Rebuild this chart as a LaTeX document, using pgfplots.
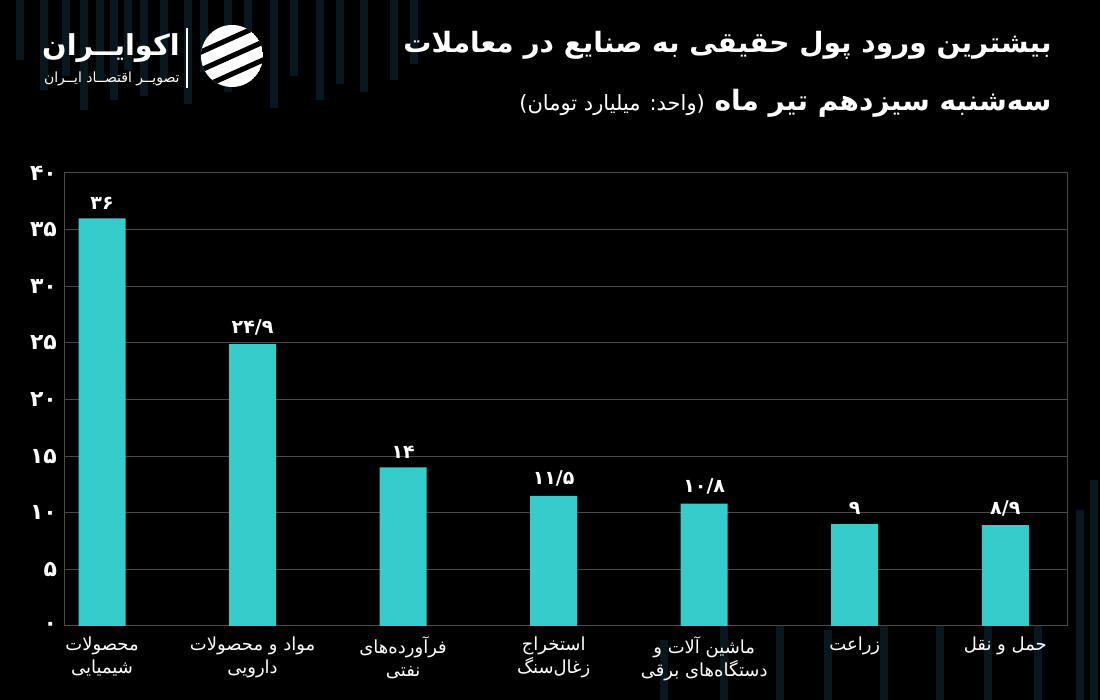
\documentclass[border=0pt]{standalone}
\usepackage{pgfplots}
\pgfplotsset{compat=1.18}
\usepackage{fontspec}
\setmainfont{DejaVu Sans}
\newfontfamily\fa[Script=Arabic]{DejaVu Sans}
\TeXXeTstate=1
\definecolor{barcyan}{HTML}{36CCCC}
\definecolor{gridgray}{HTML}{4A4A4A}
\definecolor{deco}{HTML}{08181E}
\begin{document}
\begin{tikzpicture}
\fill[black] (0pt,0pt) rectangle (550pt,350pt);
% faint decorative background columns
\foreach \x/\h in {8/30,20/45,31/38,40/55,48/40,55/50,62/35,70/48,80/40,92/52,100/36,112/46,122/40,135/54,145/38,158/50,168/42,180/46,195/40,205/32}{
  \fill[deco] (\x pt,350pt) rectangle ++(4pt,-\h pt);
}
\foreach \x/\h in {330/30,360/45,388/40,412/35,440/55,468/70,492/50,517/60,538/95,545/110}{
  \fill[deco] (\x pt,0pt) rectangle ++(4pt,\h pt);
}
% logo
\begin{scope}
\clip (116pt,322pt) circle (15.5pt);
\fill[white] (116pt,322pt) circle (15.5pt);
\foreach \d in {-9,0,9}{
  \draw[black,line width=2.6pt] ([yshift=\d pt]96pt,313pt) -- ([yshift=\d pt]136pt,331pt);
}
\end{scope}
\draw[white,line width=0.6pt] (93.5pt,336pt) -- (93.5pt,306pt);
\node[anchor=east,text=white,inner sep=0pt] at (90pt,326pt) {\fa\bfseries\fontsize{14.4}{16}\selectfont\beginR اکوایــران\endR};
\node[anchor=east,text=white,inner sep=0pt] at (90pt,310.5pt) {\fa\fontsize{7}{9}\selectfont\beginR تصویــر اقتصــاد ایــران\endR};
% titles
\node[anchor=east,text=white,inner sep=0pt] at (526pt,327.5pt) {\fa\bfseries\fontsize{14}{17}\selectfont\beginR بیشترین ورود پول حقیقی به صنایع در معاملات\endR};
\node[anchor=east,text=white,inner sep=0pt] at (526pt,298.5pt) {\fa\bfseries\fontsize{14}{17}\selectfont\beginR سه‌شنبه سیزدهم تیر ماه {\mdseries\fontsize{10.5}{12}\selectfont (واحد: میلیارد تومان)}\endR};
\begin{axis}[
  at={(32pt,37pt)}, anchor=south west,
  scale only axis, width=501.5pt, height=226.5pt,
  xmin=-0.2525, xmax=6.41, ymin=0, ymax=40,
  axis background/.style={fill=black},
  axis line style={draw=gridgray, line width=0.5pt},
  ymajorgrids, grid style={draw=gridgray, line width=0.5pt},
  major tick length=0pt,
  ytick={0,5,...,40},
  yticklabels={۰,۵,۱۰,۱۵,۲۰,۲۵,۳۰,۳۵,۴۰},
  yticklabel style={font=\fa\bfseries\fontsize{11}{12}\selectfont, text=white},
  xtick={0,...,6},
  xticklabels={
    {\beginR محصولات\endR\\\beginR شیمیایی\endR},
    {\beginR مواد و محصولات\endR\\\beginR دارویی\endR},
    {\beginR فرآورده‌های\endR\\\beginR نفتی\endR},
    {\beginR استخراج\endR\\\beginR زغال‌سنگ\endR},
    {\beginR ماشین آلات و\endR\\\beginR دستگاه‌های برقی\endR},
    {\beginR زراعت\endR},
    {\beginR حمل و نقل\endR}},
  xticklabel style={align=center, anchor=north, yshift=-2pt, font=\fa\fontsize{9}{11.5}\selectfont, text=white},
  ybar, bar width=23.5pt,
  nodes near coords,
  point meta=explicit symbolic,
  nodes near coords style={font=\fa\bfseries\fontsize{9.5}{12}\selectfont, text=white, anchor=south, yshift=1pt},
]
\addplot[fill=barcyan, draw=none] coordinates {
  (0,36) [۳۶]
  (1,24.9) [۲۴/۹]
  (2,14) [۱۴]
  (3,11.5) [۱۱/۵]
  (4,10.8) [۱۰/۸]
  (5,9) [۹]
  (6,8.9) [۸/۹]
};
\end{axis}
\pgfresetboundingbox
\useasboundingbox (0pt,0pt) rectangle (550pt,350pt);
\end{tikzpicture}
\end{document}
